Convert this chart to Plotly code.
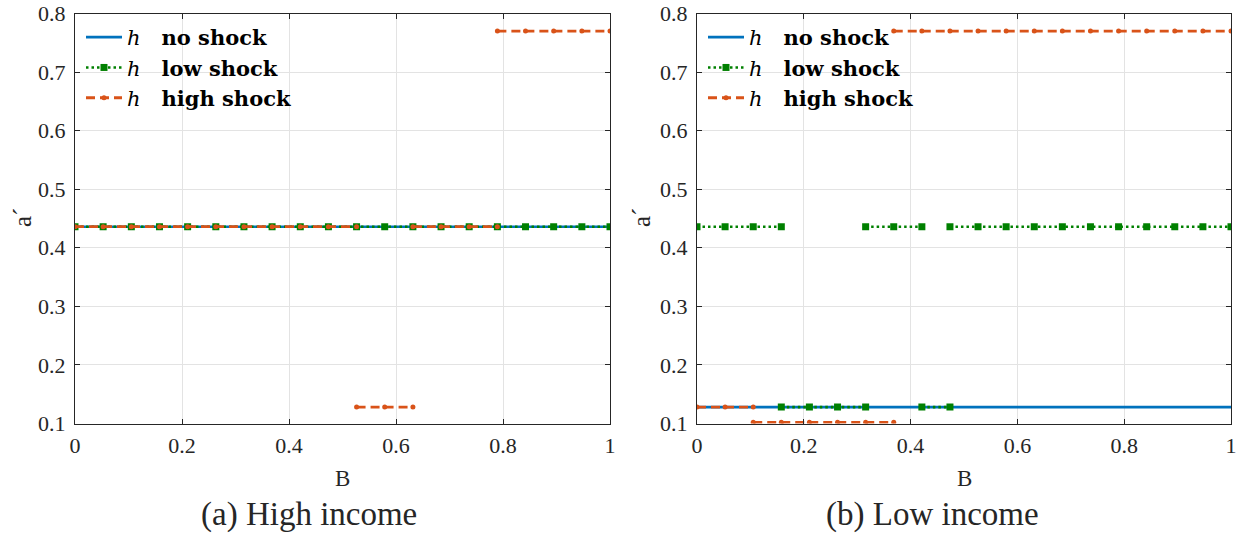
import plotly.graph_objects as go

# Grid of B values (20 points)
B = [0.0, 0.0526, 0.1053, 0.1579, 0.2105, 0.2632, 0.3158, 0.3684, 0.4211, 0.4737,
     0.5263, 0.5789, 0.6316, 0.6842, 0.7368, 0.7895, 0.8421, 0.8947, 0.9474, 1.0]

# value of a' on each interval [B_i, B_{i+1}] (19 intervals)
left_no = [0.436, 0.436, 0.436, 0.436, 0.436, 0.436, 0.436, 0.436, 0.436, 0.436,
           0.436, 0.436, 0.436, 0.436, 0.436, 0.436, 0.436, 0.436, 0.436]
left_low = [0.436, 0.436, 0.436, 0.436, 0.436, 0.436, 0.436, 0.436, 0.436, 0.436,
            0.436, 0.436, 0.436, 0.436, 0.436, 0.436, 0.436, 0.436, 0.436]
left_high = [0.436, 0.436, 0.436, 0.436, 0.436, 0.436, 0.436, 0.436, 0.436, 0.436,
             0.128, 0.128, 0.436, 0.436, 0.436, 0.77, 0.77, 0.77, 0.77]

right_no = [0.128, 0.128, 0.128, 0.128, 0.128, 0.128, 0.128, 0.128, 0.128, 0.128,
            0.128, 0.128, 0.128, 0.128, 0.128, 0.128, 0.128, 0.128, 0.128]
right_low = [0.436, 0.436, 0.436, 0.128, 0.128, 0.128, 0.436, 0.436, 0.128, 0.436,
             0.436, 0.436, 0.436, 0.436, 0.436, 0.436, 0.436, 0.436, 0.436]
right_high = [0.128, 0.128, 0.102, 0.102, 0.102, 0.102, 0.102, 0.77, 0.77, 0.77,
              0.77, 0.77, 0.77, 0.77, 0.77, 0.77, 0.77, 0.77, 0.77]

series_names = ["no shock", "low shock", "high shock"]
x_ticks = [0, 0.2, 0.4, 0.6, 0.8, 1]
y_ticks = [0.1, 0.2, 0.3, 0.4, 0.5, 0.6, 0.7, 0.8]
captions = ["(a) High income", "(b) Low income"]

FONT = "'Liberation Serif', 'Times New Roman', 'DejaVu Serif', serif"
LFONT = "'DejaVu Serif', serif"
TXT = "#262626"
BLUE = "#0072BD"
GREEN = "#008000"
ORANGE = "#D95319"


def segments(vals):
    xs, ys = [], []
    i = 0
    n = len(vals)
    while i < n:
        j = i
        while j + 1 < n and vals[j + 1] == vals[i]:
            j += 1
        seg_x = B[i:j + 2]
        xs += seg_x + [None]
        ys += [vals[i]] * len(seg_x) + [None]
        i = j + 1
    return xs, ys


styles = [
    dict(mode="lines", line=dict(color=BLUE, width=2.6)),
    dict(mode="lines+markers", line=dict(color=GREEN, width=2.6, dash="2.5px,3px"),
         marker=dict(symbol="square", size=7, color=GREEN)),
    dict(mode="lines+markers", line=dict(color=ORANGE, width=2.8, dash="9px,5px"),
         marker=dict(symbol="circle", size=5, color=ORANGE)),
]

fig = go.Figure()
panels = [(left_no, left_low, left_high), (right_no, right_low, right_high)]
for p, data in enumerate(panels):
    xa = "x" if p == 0 else "x2"
    ya = "y" if p == 0 else "y2"
    lg = "legend" if p == 0 else "legend2"
    for k, vals in enumerate(data):
        xs, ys = segments(vals)
        fig.add_trace(go.Scatter(
            x=xs, y=ys, xaxis=xa, yaxis=ya, legend=lg,
            name="<i>h</i>\u2002\u2002<b>" + series_names[k] + "</b>",
            connectgaps=False, **styles[k]))

W, H = 1243, 536
xl = [75, 610]
xr = [697, 1231]
ytop, ybot = 13.5, 423.5
ydom = [(H - ybot) / H, (H - ytop) / H]

axis_common = dict(
    showline=True, mirror="ticks", linecolor=TXT, linewidth=1,
    ticks="inside", ticklen=5, tickcolor=TXT, tickwidth=1,
    showgrid=True, gridcolor="#e3e3e3", gridwidth=1, zeroline=False,
    automargin=False,
    tickfont=dict(family=FONT, size=22, color=TXT),
)

leg_common = dict(xanchor="left", yanchor="top", bgcolor="rgba(0,0,0,0)",
                  font=dict(family=LFONT, size=21, color="black"),
                  itemwidth=36, tracegroupgap=0)

fig.update_layout(
    width=W, height=H,
    margin=dict(l=0, r=0, t=0, b=0, autoexpand=False),
    font=dict(family=FONT, color=TXT),
    paper_bgcolor="white", plot_bgcolor="white",
    showlegend=True,
    xaxis=dict(domain=[xl[0] / W, xl[1] / W], range=[0, 1], tickvals=x_ticks,
               anchor="y", ticklabelstandoff=2, **axis_common),
    yaxis=dict(domain=ydom, range=[0.1, 0.8], tickvals=y_ticks, anchor="x",
               ticklabelstandoff=4, **axis_common),
    xaxis2=dict(domain=[xr[0] / W, xr[1] / W], range=[0, 1], tickvals=x_ticks,
                anchor="y2", ticklabelstandoff=2, **axis_common),
    yaxis2=dict(domain=ydom, range=[0.1, 0.8], tickvals=y_ticks, anchor="x2",
                ticklabelstandoff=4, **axis_common),
    legend=dict(x=(xl[0] + 6) / W, y=(H - 17) / H, **leg_common),
    legend2=dict(x=(xr[0] + 6) / W, y=(H - 17) / H, **leg_common),
)

ann = []
for p, (xa, cap, capx, ylx) in enumerate([(xl, captions[0], 309, 22), (xr, captions[1], 932, 641)]):
    ann.append(dict(text="B", x=(xa[0] + xa[1]) / 2 / W, y=(H - 478) / H, xref="paper", yref="paper",
                    showarrow=False, xanchor="center", yanchor="middle",
                    font=dict(family=FONT, size=23, color=TXT)))
    ann.append(dict(text=cap, x=capx / W, y=(H - 514) / H, xref="paper", yref="paper",
                    showarrow=False, xanchor="center", yanchor="middle",
                    font=dict(family=FONT, size=33, color=TXT)))
    ann.append(dict(text="a\u00b4", x=ylx / W, y=(H - 218) / H, xref="paper", yref="paper",
                    showarrow=False, xanchor="center", yanchor="middle", textangle=-90,
                    font=dict(family=FONT, size=25, color=TXT)))
fig.update_layout(annotations=ann)

fig.write_html("out.html")
